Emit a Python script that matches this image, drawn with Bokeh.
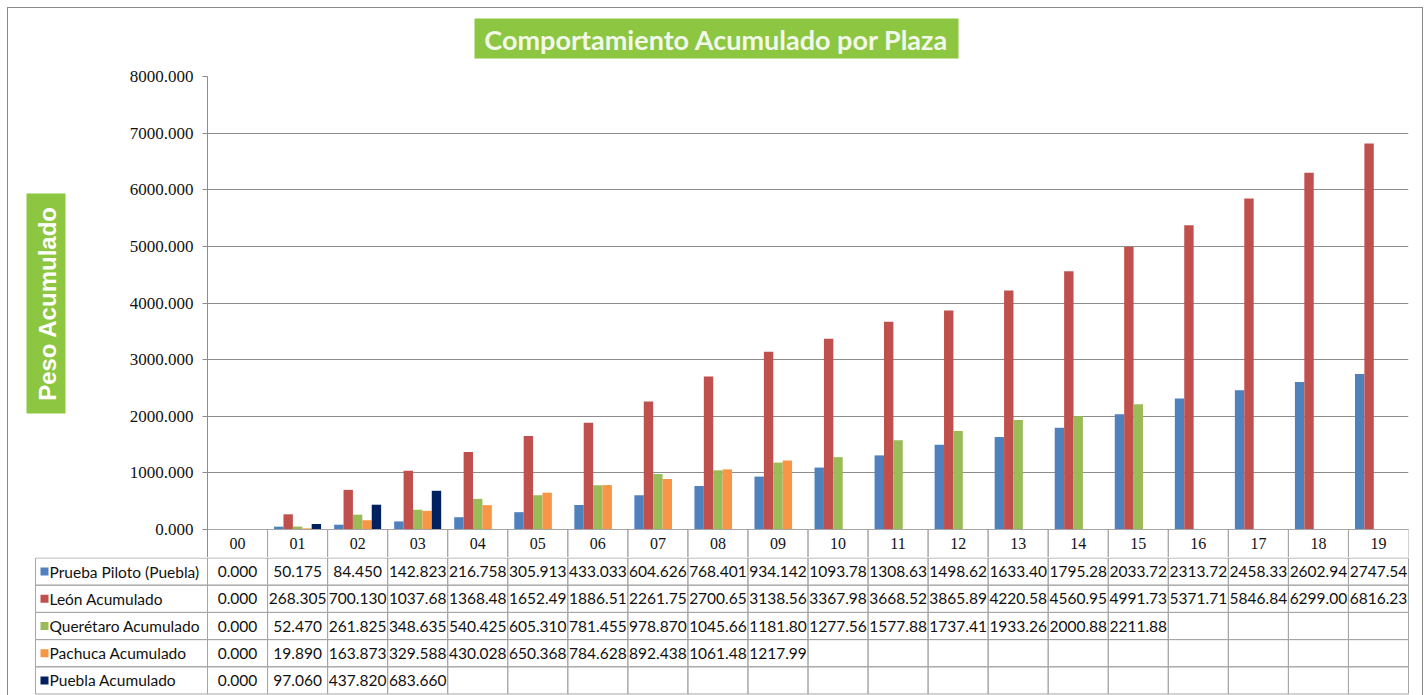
import math
from bokeh.plotting import figure
from bokeh.models import (ColumnDataSource, Range1d, FixedTicker, PrintfTickFormatter)
from bokeh.transform import dodge
from bokeh.layouts import column, row
from bokeh.embed import file_html
from bokeh.resources import INLINE
from bokeh.core.properties import value

# ---------------- data ----------------
categories = ["00", "01", "02", "03", "04", "05", "06", "07", "08", "09",
              "10", "11", "12", "13", "14", "15", "16", "17", "18", "19"]
prueba_piloto = [0.000, 50.175, 84.450, 142.823, 216.758, 305.913, 433.033, 604.626, 768.401, 934.142,
                 1093.78, 1308.63, 1498.62, 1633.40, 1795.28, 2033.72, 2313.72, 2458.33, 2602.94, 2747.54]
leon = [0.000, 268.305, 700.130, 1037.68, 1368.48, 1652.49, 1886.51, 2261.75, 2700.65, 3138.56,
        3367.98, 3668.52, 3865.89, 4220.58, 4560.95, 4991.73, 5371.71, 5846.84, 6299.00, 6816.23]
queretaro = [0.000, 52.470, 261.825, 348.635, 540.425, 605.310, 781.455, 978.870, 1045.66, 1181.80,
             1277.56, 1577.88, 1737.41, 1933.26, 2000.88, 2211.88, None, None, None, None]
pachuca = [0.000, 19.890, 163.873, 329.588, 430.028, 650.368, 784.628, 892.438, 1061.48, 1217.99,
           None, None, None, None, None, None, None, None, None, None]
puebla = [0.000, 97.060, 437.820, 683.660, None, None, None, None, None, None,
          None, None, None, None, None, None, None, None, None, None]
series_names = ["Prueba Piloto (Puebla)", "León Acumulado", "Querétaro Acumulado",
                "Pachuca Acumulado", "Puebla Acumulado"]
series_values = [prueba_piloto, leon, queretaro, pachuca, puebla]
series_colors = ["#4F81BD", "#C0504D", "#9BBB59", "#F79646", "#002060"]
y_ticks = [0, 1000, 2000, 3000, 4000, 5000, 6000, 7000, 8000]
title_text = "Comportamiento Acumulado por Plaza"
y_label_text = "Peso Acumulado"

GREEN = "#8DC641"
GRID = "#8c8c8c"
TABLE_LINE = "#a6a6a6"
PX_PER_1000 = 453 / 8.0          # vertical scale of the value axis (px per 1000)
HEADER_PX = 28                    # height of the category header row
COL_PX = 1201 / len(categories)   # width of one category column

n = len(categories)
xc = [i + 0.5 for i in range(n)]
nan = float("nan")


def clean(vals):
    return [nan if v is None else v for v in vals]


def bare(fig):
    fig.frame_align = False
    fig.outline_line_color = None
    fig.background_fill_color = "white"
    fig.border_fill_color = "white"
    fig.xgrid.visible = False
    return fig


# ---------------- title strip ----------------
# decoration figures use page-pixel ranges
tf = bare(figure(width=1414, height=58, output_backend="svg", toolbar_location=None,
                 x_range=Range1d(8, 1422), y_range=Range1d(66, 8),
                 x_axis_location=None, y_axis_location=None,
                 min_border_left=0, min_border_right=0, min_border_top=0, min_border_bottom=0))
tf.ygrid.visible = False
tf.rect(x=[716], y=[38], width=[484], height=[40], fill_color=GREEN, line_color=None)
tf.text(x=[716], y=[38.5], text=[title_text], text_align="center", text_baseline="middle",
        text_font=value("Lato"), text_font_style="bold", text_font_size=value("27px"),
        text_color="#f2f9ea")

# ---------------- y label strip ----------------
yf = bare(figure(width=100, height=491, output_backend="svg", toolbar_location=None,
                 x_range=Range1d(8, 108), y_range=Range1d(557, 66),
                 x_axis_location=None, y_axis_location=None,
                 min_border_left=0, min_border_right=0, min_border_top=0, min_border_bottom=0))
yf.ygrid.visible = False
yf.rect(x=[45.5], y=[303], width=[39], height=[220], fill_color=GREEN, line_color=None)
yf.text(x=[46.5], y=[303], text=[y_label_text], angle=math.pi / 2,
        text_align="center", text_baseline="middle",
        text_font=value("Liberation Sans"), text_font_style="bold",
        text_font_size=value("24px"), text_color="white")

# ---------------- main chart (with category header row) ----------------
y_bottom = -HEADER_PX / PX_PER_1000 * 1000
p = bare(figure(width=1314, height=491, output_backend="svg", toolbar_location=None,
                x_range=Range1d(0, n), y_range=Range1d(y_bottom, 8000), x_axis_location=None,
                min_border_left=99, min_border_right=14, min_border_top=10, min_border_bottom=0))
p.ygrid.ticker = FixedTicker(ticks=y_ticks)
p.ygrid.grid_line_color = GRID
p.yaxis.ticker = FixedTicker(ticks=y_ticks)
p.yaxis.formatter = PrintfTickFormatter(format="%.3f")
p.yaxis.major_label_text_font = "Liberation Serif"
p.yaxis.major_label_text_font_size = "17px"
p.yaxis.major_label_text_color = "#111111"
p.yaxis.axis_line_color = GRID
p.yaxis.major_tick_line_color = GRID
p.yaxis.major_tick_out = 5
p.yaxis.major_tick_in = 0
p.yaxis.minor_tick_out = 0
p.yaxis.minor_tick_in = 0
p.yaxis.major_label_standoff = 9

bar_w = 9.4 / COL_PX
src = ColumnDataSource(dict(xc=xc, cat=categories,
                            s0=clean(prueba_piloto), s1=clean(leon), s2=clean(queretaro),
                            s3=clean(pachuca), s4=clean(puebla)))
for i, color in enumerate(series_colors):
    p.vbar(x=dodge("xc", (i - 2) * bar_w), top="s%d" % i, bottom=0,
           width=bar_w, source=src, fill_color=color, line_color=None)

# header row of the data table (category labels)
p.rect(x="xc", y=y_bottom / 2, width=1, height=-y_bottom, source=src,
       fill_color=None, line_color=TABLE_LINE)
p.text(x="xc", y=y_bottom / 2, text="cat", source=src, text_align="center",
       text_baseline="middle", text_font=value("Liberation Serif"),
       text_font_size=value("16px"), text_color="#111111")

# ---------------- data table rows ----------------
x0 = -(207 - 35) / COL_PX
e = 1 / COL_PX
ROW_PX = 27.2
t = bare(figure(width=1414, height=138, output_backend="svg", toolbar_location=None,
                x_range=Range1d(x0 - e, n + e),
                y_range=Range1d(5 + 1.5 / ROW_PX, -0.5 / ROW_PX),
                x_axis_location=None, y_axis_location=None,
                min_border_left=26, min_border_right=13, min_border_top=0, min_border_bottom=0))
t.ygrid.visible = False


def fmt(v):
    if v is None:
        return ""
    return "%.3f" % v if v < 1000 else "%.2f" % v


cx, cy, cw, txt = [], [], [], []
for r, vals in enumerate(series_values):
    cx.append(x0 / 2); cy.append(r + 0.5); cw.append(-x0); txt.append("")
    for j, v in enumerate(vals):
        cx.append(j + 0.5); cy.append(r + 0.5); cw.append(1.0); txt.append(fmt(v))
cells = ColumnDataSource(dict(x=cx, y=cy, w=cw, txt=txt))
t.rect(x="x", y="y", width="w", height=1, source=cells, fill_color=None,
       line_color=TABLE_LINE, line_width=1)
t.text(x="x", y="y", text="txt", source=cells, text_align="center", text_baseline="middle",
       text_font=value("Lato"), text_font_size=value("15.5px"), text_color="#111111")

leg = ColumnDataSource(dict(x=[x0 + 9 / COL_PX] * 5, tx=[x0 + 14 / COL_PX] * 5,
                            y=[r + 0.5 for r in range(5)], name=series_names, color=series_colors))
t.scatter(x="x", y="y", source=leg, marker="square", size=8, fill_color="color", line_color=None)
t.text(x="tx", y="y", text="name", source=leg, text_align="left", text_baseline="middle",
       text_font=value("Lato"), text_font_size=value("15.5px"), text_color="#111111")

layout = column(tf, row(yf, p, spacing=0), t, spacing=0, margin=(8, 0, 0, 8),
                styles={"outline": "1px solid #8a8a8a", "outline-offset": "0px"})
open("out.html", "w").write(file_html(layout, INLINE))
